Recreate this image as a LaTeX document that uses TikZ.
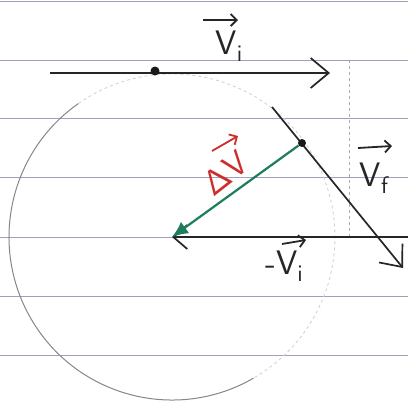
\documentclass[tikz,border=0pt]{standalone}
\usetikzlibrary{arrows.meta}
\definecolor{ruleblue}{RGB}{160,160,190}
\definecolor{pengreen}{RGB}{30,125,90}
\definecolor{penred}{RGB}{205,45,45}
\definecolor{pencil}{RGB}{135,135,135}
\newcommand{\subl}[1]{\raisebox{-7pt}{\fontsize{24}{24}\selectfont #1}}
\begin{document}
\begin{tikzpicture}[x=1pt,y=-1pt,
  rule/.style={draw=ruleblue,line width=0.9pt},
  vecline/.style={draw=black!85,line width=1.7pt,-{Straight Barb[length=18pt,width=30pt,line width=1.7pt]}},
  overarrow/.style={line width=1.8pt,-{Straight Barb[length=6pt,width=12pt,line width=1.8pt]}},
  lab/.style={font=\fontsize{34}{34}\selectfont\sffamily, inner sep=0pt, text=black!85},
  dotn/.style={circle,fill=black!90,inner sep=0pt,minimum size=8pt}]
\useasboundingbox (0,0) rectangle (408,402);
\fill[white] (0,0) rectangle (408,402);
% ruled paper
\foreach \yy in {1,60,118,177,237,296,355} \draw[rule] (0,\yy) -- (408,\yy);
\draw[pencil!70,dashed,line width=1pt] (349,60) -- (349,237);
% circle
\coordinate (c) at (172,237);
\draw[pencil,line width=1pt] (c) ++(60:163) arc[start angle=60,end angle=235,radius=163];
\draw[pencil!40,dashed,line width=0.8pt] (c) ++(-125:163) arc[start angle=-125,end angle=60,radius=163];
% v_i
\coordinate (a) at (50,73);
\coordinate (b) at (330,73);
\draw[vecline] (a) -- (b);
\node[dotn,minimum size=9pt] (p1) at (155,71) {};
% v_f
\coordinate (f0) at (272,107);
\coordinate (f1) at (403,268);
\draw[vecline] (f0) -- (f1);
\node[dotn] (p2) at (302,143) {};
% -v_i
\coordinate (m0) at (408,237);
\draw[draw=black!85,line width=1.7pt,-{Straight Barb[length=14pt,width=24pt,line width=1.7pt]}] (m0) -- (c);
% delta v
\draw[pengreen,line width=2.2pt,-{Latex[length=16pt,width=14pt]}] (p2) -- (c);
% labels
\node[lab] (lvi) at (229,46) {V\subl{i}};
\draw[overarrow,black!85] ([shift={(-26,-26)}]lvi.center) -- ([shift={(9,-26)}]lvi.center);
\node[lab] (lvf) at (374,178) {V\subl{f}};
\draw[overarrow,black!85] ([shift={(-16,-30)}]lvf.center) -- ([shift={(18,-32)}]lvf.center);
\node[lab] (lmvi) at (284,266) {-V\subl{i}};
\draw[overarrow,black!85] ([shift={(-2,-22)}]lmvi.center) -- ([shift={(22,-26)}]lmvi.center);
\node[lab,text=penred,rotate=38] (ldv) at (225,173) {ΔV};
\draw[overarrow,penred] ([shift={(-13,-22)}]ldv.center) -- ([shift={(13,-37)}]ldv.center);
\end{tikzpicture}
\end{document}
